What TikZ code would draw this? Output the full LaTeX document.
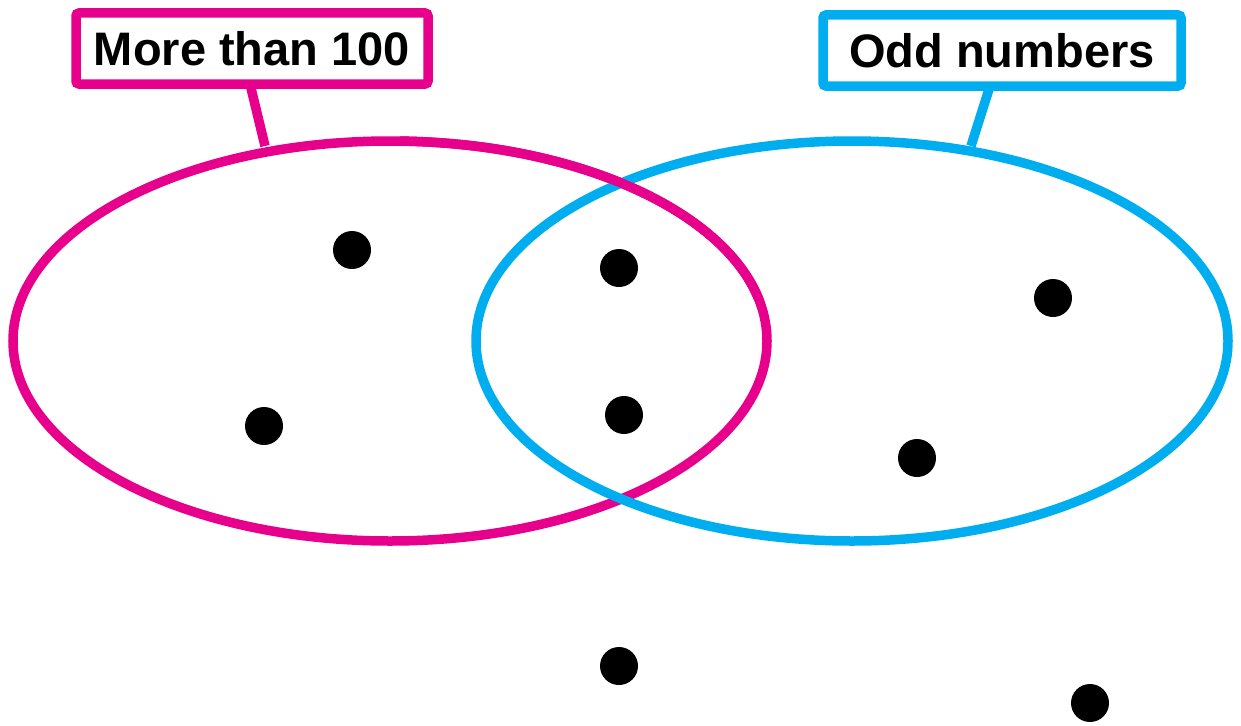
\documentclass[tikz,border=0pt]{standalone}
\usepackage{fontspec}
\setmainfont{Liberation Sans}
\definecolor{setpink}{HTML}{E6008C}
\definecolor{setblue}{HTML}{00AEEF}
\begin{document}
\begin{tikzpicture}[x=1pt,y=-1pt,
  setline/.style={line width=9.5pt},
  labelbox/.style={draw, line width=9.5pt, rounded corners=3pt, minimum width=#1, minimum height=71pt, inner sep=0pt, font=\bfseries\fontsize{47}{50}\selectfont},
  elt/.style={circle, fill=black, minimum size=38pt, inner sep=0pt}]
\useasboundingbox (0,0) rectangle (1241,725);
% the two sets
\draw[setline, setpink] (390,341) ellipse [x radius=377, y radius=200];
\draw[setline, setblue] (852,341) ellipse [x radius=376, y radius=200];
% pink passes over blue at the upper crossing
\begin{scope}
  \clip (400,0) rectangle (800,300);
  \draw[setline, setpink] (390,341) ellipse [x radius=377, y radius=200];
\end{scope}
% labels and their tags
\node[labelbox=352pt, setpink] (more) at (252,48.5) {\textcolor{black}{More than 100}};
\node[labelbox=358pt, setblue] (odd) at (1002,50.5) {\textcolor{black}{Odd numbers}};
\coordinate (pa) at (250,84);
\coordinate (pb) at (265,146);
\coordinate (ba) at (990,86);
\coordinate (bb) at (971,146);
\draw[setline, setpink] (pa) -- (pb);
\draw[setline, setblue] (ba) -- (bb);
% elements
\node[elt] (e1) at (352,250) {};
\node[elt] (e2) at (264,426) {};
\node[elt] (e3) at (619,268) {};
\node[elt] (e4) at (624,415) {};
\node[elt] (e5) at (1053,298) {};
\node[elt] (e6) at (917,458) {};
\node[elt] (e7) at (619,666) {};
\node[elt] (e8) at (1090,703) {};
\end{tikzpicture}
\end{document}
